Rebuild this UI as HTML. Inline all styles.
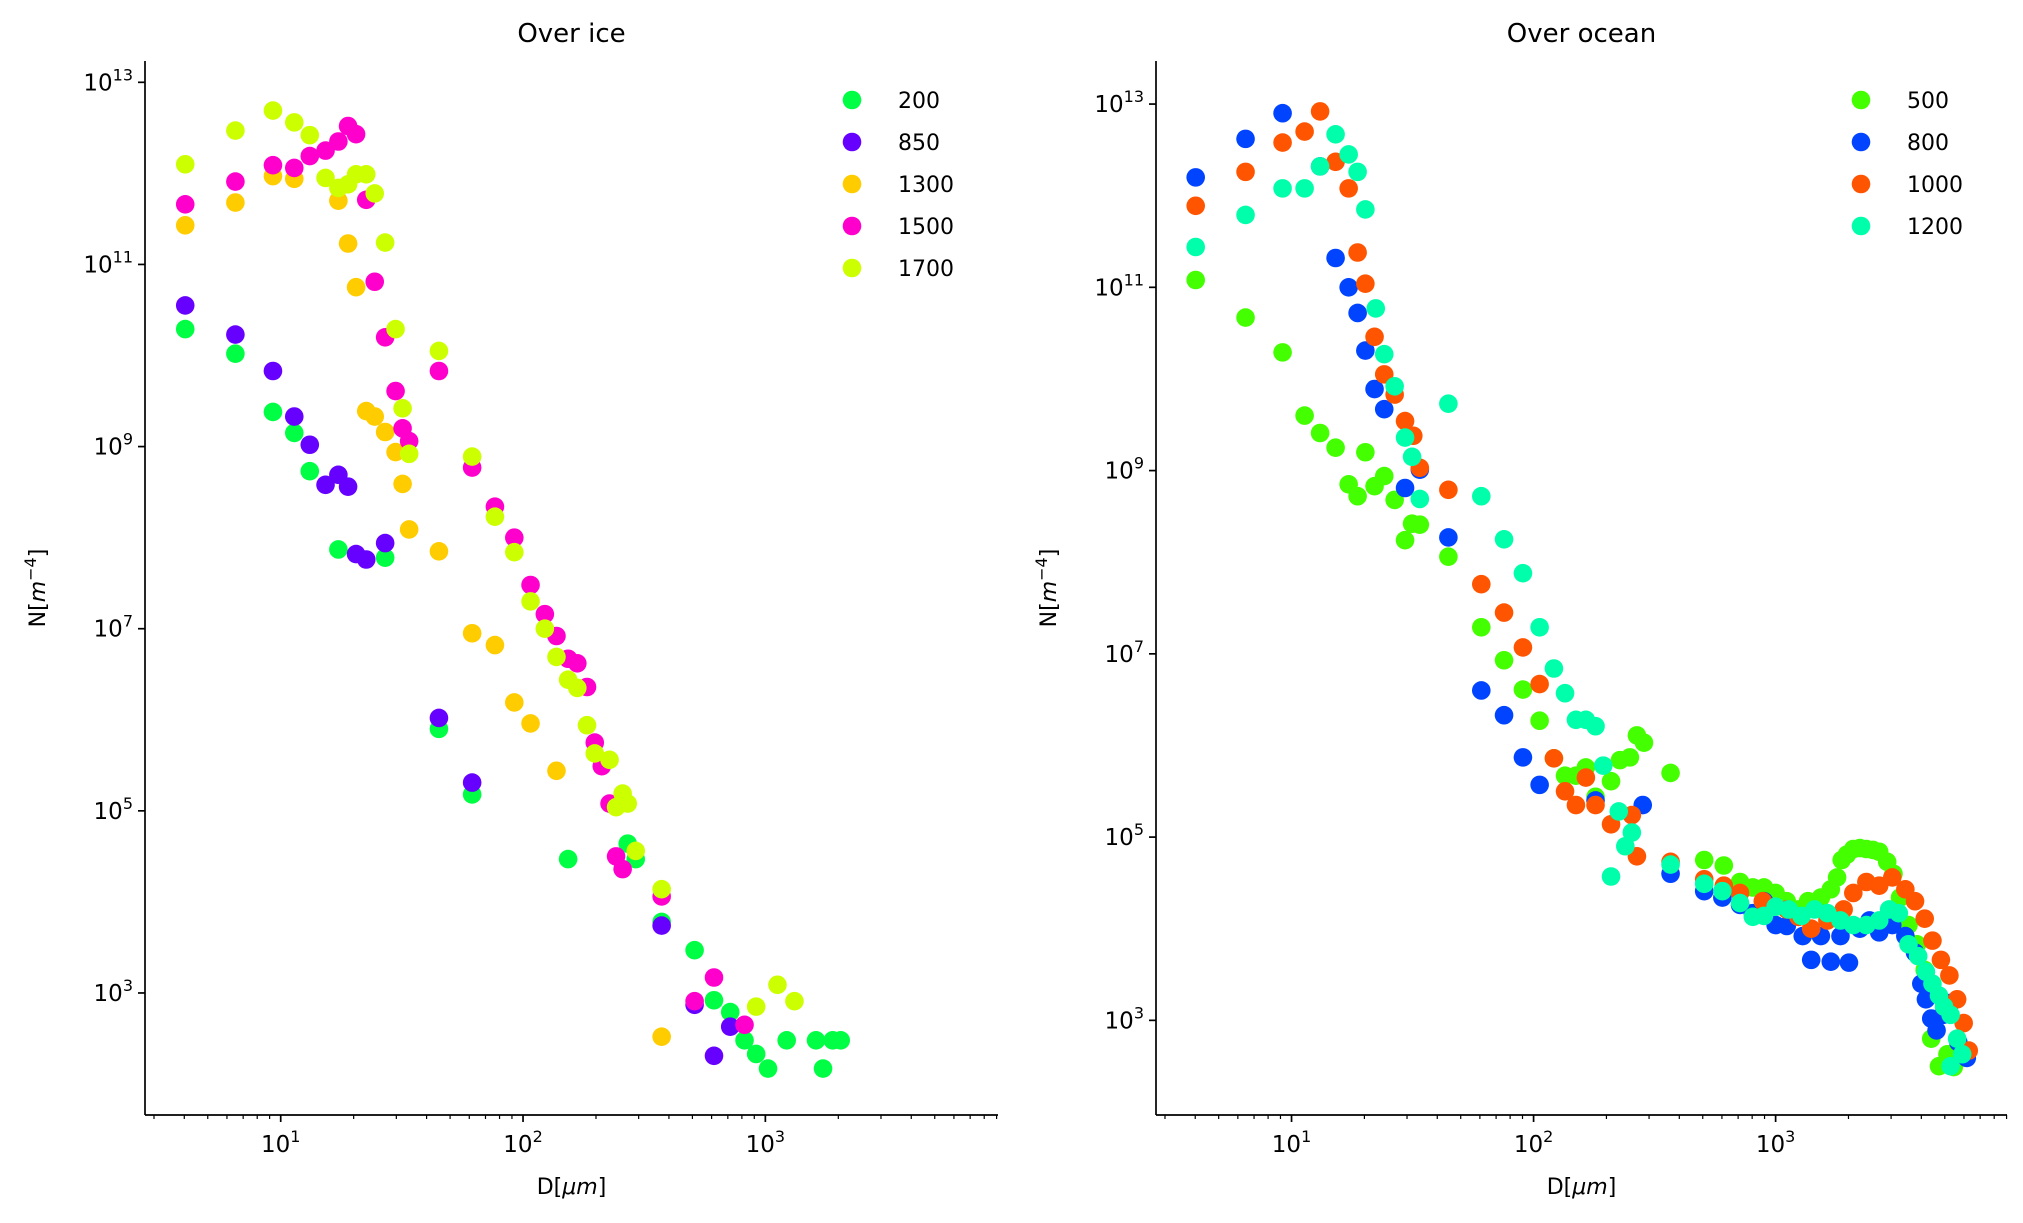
<!DOCTYPE html>
<html><head><meta charset="utf-8"><style>
html,body{margin:0;padding:0;background:#fff;}
svg{display:block;font-family:"DejaVu Sans","Liberation Sans",sans-serif;}
</style></head><body>
<svg id="fig" width="2023" height="1223" viewBox="0 0 2023 1223" xmlns="http://www.w3.org/2000/svg"></svg>
<script>
// ---- data (log10 D [um], log10 N [m^-4]) ----
const iceNames = ["200","850","1300","1500","1700"];
const iceColors = ["#00ff44","#6600ff","#ffcc00","#ff00cc","#ccff00"];
const ice200D = [0.606,0.813,0.968,1.056,1.120,1.238,1.431,1.653,1.790,2.186,2.432,2.465,2.572,2.708,2.788,2.855,2.914,2.962,3.011,3.088,3.209,3.238,3.278,3.311];
const ice200N = [10.29,10.02,9.38,9.15,8.73,7.87,7.78,5.90,5.18,4.47,4.64,4.47,3.78,3.47,2.92,2.79,2.48,2.33,2.17,2.48,2.48,2.17,2.48,2.48];
const ice850D = [0.606,0.813,0.968,1.056,1.120,1.185,1.238,1.278,1.311,1.353,1.431,1.653,1.790,2.572,2.708,2.788,2.855];
const ice850N = [10.55,10.23,9.83,9.33,9.02,8.58,8.69,8.56,7.82,7.76,7.94,6.02,5.31,3.74,2.87,2.31,2.63];
const ice1300D = [0.606,0.813,0.968,1.056,1.238,1.278,1.311,1.353,1.388,1.431,1.474,1.503,1.530,1.653,1.790,1.884,1.964,2.031,2.138,2.572];
const ice1300N = [11.43,11.68,11.97,11.94,11.70,11.23,10.75,9.39,9.33,9.16,8.94,8.59,8.09,7.85,6.95,6.82,6.19,5.96,5.44,2.52];
const ice1500D = [0.606,0.813,0.968,1.056,1.120,1.185,1.238,1.278,1.311,1.353,1.388,1.431,1.474,1.503,1.530,1.653,1.790,1.884,1.964,2.031,2.090,2.138,2.186,2.224,2.264,2.296,2.325,2.357,2.384,2.411,2.572,2.708,2.788,2.914];
const ice1500N = [11.66,11.91,12.09,12.06,12.19,12.25,12.35,12.52,12.43,11.71,10.81,10.20,9.61,9.20,9.06,9.83,8.77,8.34,8.00,7.48,7.16,6.92,6.67,6.62,6.36,5.75,5.49,5.08,4.50,4.36,4.06,2.91,3.17,2.65];
const ice1700D = [0.606,0.813,0.968,1.056,1.120,1.185,1.238,1.278,1.311,1.353,1.388,1.431,1.474,1.503,1.530,1.653,1.790,1.884,1.964,2.031,2.090,2.138,2.186,2.224,2.264,2.296,2.357,2.384,2.411,2.432,2.465,2.572,2.962,3.050,3.120];
const ice1700N = [12.10,12.47,12.69,12.56,12.42,11.95,11.84,11.88,11.99,11.99,11.78,11.24,10.29,9.42,8.92,10.05,8.89,8.23,7.84,7.30,7.00,6.69,6.44,6.35,5.94,5.63,5.56,5.04,5.19,5.08,4.56,4.14,2.85,3.09,2.91];

const oceNames = ["500","800","1000","1200"];
const oceColors = ["#44ff00","#0044ff","#ff5500","#00ffaa"];
const oce500D = [0.604,0.810,0.963,1.054,1.118,1.182,1.236,1.273,1.305,1.343,1.383,1.426,1.469,1.498,1.530,1.648,1.784,1.878,1.956,2.025,2.084,2.130,2.175,2.216,2.256,2.320,2.357,2.398,2.427,2.456,2.566,2.705,2.786,2.853,2.906,2.952,3.000,3.046,3.094,3.134,3.187,3.228,3.254,3.273,3.295,3.321,3.348,3.375,3.402,3.428,3.461,3.487,3.514,3.549,3.584,3.616,3.643,3.675,3.710,3.736,3.764];
const oce500N = [11.08,10.67,10.29,9.60,9.41,9.25,8.85,8.72,9.20,8.83,8.94,8.68,8.24,8.42,8.41,8.06,7.29,6.93,6.61,6.27,5.86,5.67,5.67,5.76,5.44,5.61,5.84,5.87,6.11,6.03,5.70,4.75,4.69,4.51,4.45,4.45,4.39,4.30,4.21,4.30,4.34,4.43,4.56,4.75,4.81,4.87,4.88,4.87,4.86,4.84,4.73,4.60,4.34,4.04,3.83,3.55,2.80,2.50,2.63,2.49,2.59];
const oce800D = [0.604,0.810,0.963,1.118,1.182,1.236,1.273,1.305,1.343,1.383,1.469,1.530,1.648,1.784,1.878,1.956,2.025,2.256,2.451,2.566,2.705,2.780,2.853,2.906,2.952,3.000,3.046,3.094,3.112,3.147,3.187,3.228,3.268,3.303,3.348,3.388,3.428,3.482,3.536,3.576,3.602,3.621,3.643,3.665,3.691,3.723,3.755,3.790];
const oce800N = [12.20,12.62,12.90,12.32,11.32,11.00,10.72,10.31,9.89,9.67,8.81,9.01,8.27,6.60,6.33,5.87,5.57,5.40,5.35,4.60,4.41,4.34,4.26,4.17,4.30,4.04,4.03,4.13,3.92,3.66,3.92,3.64,3.92,3.63,4.00,4.09,3.96,4.04,3.92,3.74,3.40,3.23,3.02,2.89,3.06,3.19,2.76,2.59];
const oce1000D = [0.604,0.810,0.963,1.054,1.118,1.182,1.236,1.273,1.305,1.343,1.383,1.426,1.469,1.503,1.530,1.648,1.784,1.878,1.956,2.025,2.084,2.130,2.175,2.216,2.256,2.320,2.406,2.427,2.566,2.705,2.786,2.853,2.947,3.046,3.094,3.147,3.214,3.281,3.321,3.375,3.428,3.482,3.536,3.576,3.616,3.648,3.683,3.718,3.750,3.777,3.798];
const oce1000N = [11.89,12.26,12.58,12.70,12.92,12.37,12.08,11.38,11.04,10.46,10.05,9.83,9.54,9.38,9.03,8.79,7.76,7.45,7.07,6.67,5.86,5.50,5.35,5.65,5.35,5.14,5.24,4.79,4.73,4.54,4.47,4.39,4.30,4.21,4.13,4.00,4.09,4.21,4.39,4.51,4.47,4.56,4.43,4.30,4.11,3.87,3.66,3.49,3.23,2.97,2.67];
const oce1200D = [0.604,0.810,0.963,1.054,1.118,1.182,1.236,1.273,1.305,1.348,1.383,1.426,1.469,1.498,1.530,1.648,1.784,1.878,1.956,2.025,2.084,2.130,2.175,2.216,2.256,2.288,2.320,2.352,2.379,2.406,2.566,2.705,2.780,2.853,2.906,2.952,3.000,3.054,3.107,3.161,3.214,3.268,3.321,3.375,3.428,3.469,3.509,3.549,3.589,3.621,3.648,3.675,3.696,3.723,3.750,3.771,3.723];
const oce1200N = [11.44,11.79,12.08,12.08,12.32,12.67,12.45,12.26,11.85,10.77,10.27,9.92,9.36,9.15,8.69,9.73,8.72,8.25,7.88,7.29,6.84,6.57,6.28,6.28,6.21,5.78,4.57,5.28,4.90,5.05,4.70,4.49,4.41,4.28,4.13,4.14,4.24,4.21,4.14,4.21,4.17,4.09,4.04,4.04,4.09,4.21,4.17,3.83,3.70,3.53,3.40,3.27,3.15,3.06,2.80,2.63,2.50];

const xTickExps = [1,2,3];
const iceYTickExps = [3,5,7,9,11,13];
const oceYTickExps = [3,5,7,9,11,13];

const NS="http://www.w3.org/2000/svg";
const svg=document.getElementById('fig');
function mk(tag,attrs,parent){const e=document.createElementNS(NS,tag);for(const k in attrs)e.setAttribute(k,attrs[k]);(parent||svg).appendChild(e);return e;}

function panel(cfg){
  const g=mk('g',{});
  
  
  const {x0,x1,y0,y1,lx0,lx1,ly0,ly1}=cfg;
  const sx=v=>x0+(v-lx0)/(lx1-lx0)*(x1-x0);
  const sy=v=>y1-(v-ly0)/(ly1-ly0)*(y1-y0);
  cfg.series.forEach((s,si)=>{
    const sg=mk('g',{},g);
    
    
    s.D.forEach((d,i)=>{
      const c=mk('circle',{cx:sx(d),cy:sy(s.N[i]),r:9.3,fill:s.color},sg);
      
      
    });
  });
  const sp1=mk('line',{x1:x0,y1:y0,x2:x0,y2:y1,stroke:'#000','stroke-width':1.7},g);
  
  
  const sp2=mk('line',{x1:x0,y1:y1,x2:x1,y2:y1,stroke:'#000','stroke-width':1.7},g);
  
  
  for(let e=Math.floor(lx0);e<=Math.ceil(lx1);e++){
    for(let m=1;m<10;m++){
      const v=e+Math.log10(m);
      if(v<lx0||v>lx1)continue;
      const X=sx(v);
      const t=mk('line',{x1:X,y1:y1,x2:X,y2:y1+(m===1?7:4),stroke:'#000','stroke-width':m===1?1.7:1.2},g);
      
      
    }
  }
  xTickExps.forEach(e=>{
    const t=mk('text',{x:sx(e),y:y1+37,'text-anchor':'middle','font-size':23},g);
    
    
    t.innerHTML='10<tspan dy="-10" font-size="16">'+e+'</tspan>';
  });
  cfg.yTicks.forEach(e=>{
    const Y=sy(e);
    const t=mk('line',{x1:x0-7,y1:Y,x2:x0,y2:Y,stroke:'#000','stroke-width':1.7},g);
    
    
    const tl=mk('text',{x:x0-12,y:Y+8,'text-anchor':'end','font-size':23},g);
    
    
    tl.innerHTML='10<tspan dy="-10" font-size="16">'+e+'</tspan>';
  });
  const cx=(x0+x1)/2;
  const ti=mk('text',{x:cx,y:42,'text-anchor':'middle','font-size':26},g);
  
  
  ti.textContent=cfg.title;
  const xl=mk('text',{x:cx,y:1194,'text-anchor':'middle','font-size':22},g);
  
  
  xl.innerHTML='D[<tspan font-style="italic">μm</tspan>]';
  const yl=mk('text',{x:0,y:0,'text-anchor':'middle','font-size':22,transform:'translate('+(x0-100)+',588) rotate(-90)'},g);
  
  
  yl.innerHTML='N[<tspan font-style="italic">m</tspan><tspan dy="-9" font-size="16">−4</tspan><tspan dy="9">]</tspan>';
  const lg=mk('g',{},g);
  
  
  cfg.series.forEach((s,i)=>{
    const Y=100+i*42;
    const c=mk('circle',{cx:cfg.legX,cy:Y,r:9.3,fill:s.color},lg);
    
    
    const t=mk('text',{x:cfg.legX+46,y:Y+8,'font-size':22},lg);
    
    
    t.textContent=s.label;
  });
}

panel({name:'over-ice',title:'Over ice',x0:145,x1:998,y0:61,y1:1115,lx0:0.44,lx1:3.96,ly0:1.66,ly1:13.234,yTicks:iceYTickExps,legX:852,
  series:[
    {label:iceNames[0],color:iceColors[0],D:ice200D,N:ice200N},
    {label:iceNames[1],color:iceColors[1],D:ice850D,N:ice850N},
    {label:iceNames[2],color:iceColors[2],D:ice1300D,N:ice1300N},
    {label:iceNames[3],color:iceColors[3],D:ice1500D,N:ice1500N},
    {label:iceNames[4],color:iceColors[4],D:ice1700D,N:ice1700N}]});
panel({name:'over-ocean',title:'Over ocean',x0:1156,x1:2007,y0:61,y1:1115,lx0:0.44,lx1:3.956,ly0:1.967,ly1:13.47,yTicks:oceYTickExps,legX:1861,
  series:[
    {label:oceNames[0],color:oceColors[0],D:oce500D,N:oce500N},
    {label:oceNames[1],color:oceColors[1],D:oce800D,N:oce800N},
    {label:oceNames[2],color:oceColors[2],D:oce1000D,N:oce1000N},
    {label:oceNames[3],color:oceColors[3],D:oce1200D,N:oce1200N}]});
</script>
</body></html>
